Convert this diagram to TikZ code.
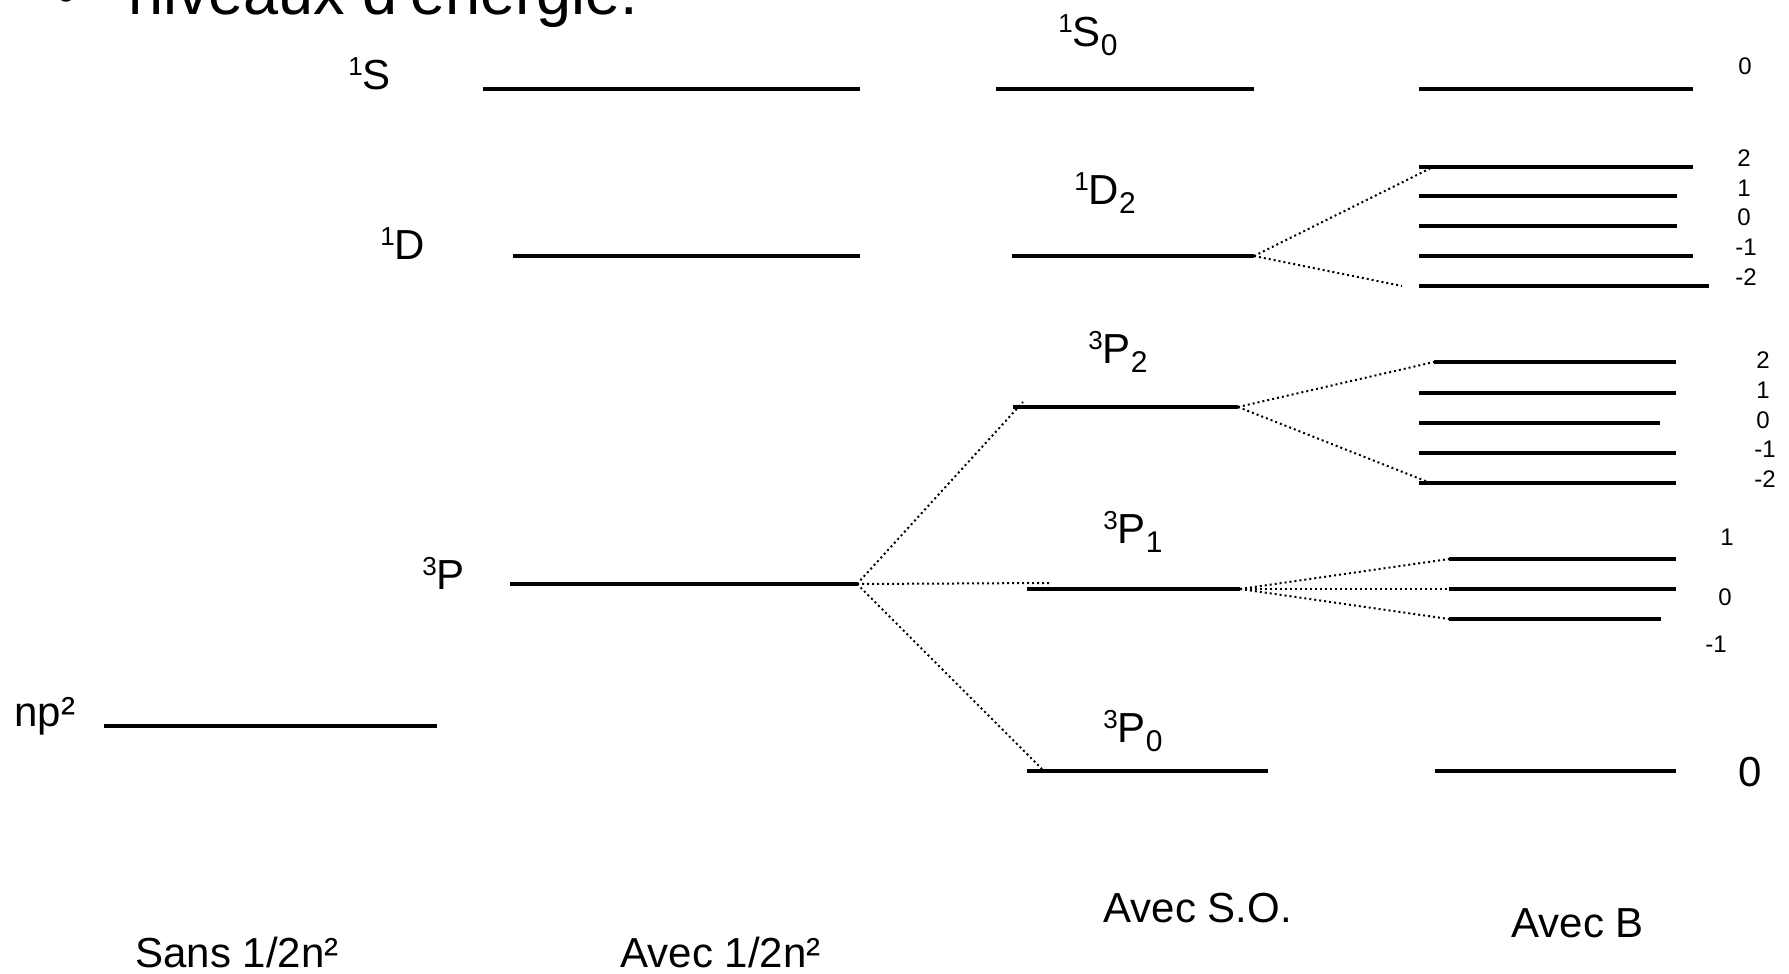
\documentclass[tikz,border=0pt]{standalone}
\usepackage{fontspec}
\setmainfont{Liberation Sans}
% term-symbol helpers: raised left index and lowered right index
\newcommand\lvlsup[1]{\raisebox{7pt}{\fontsize{13}{13}\selectfont #1}}
\newcommand\lvlsub[1]{\raisebox{-4.5pt}{\fontsize{15}{15}\selectfont #1}}
\begin{document}
\begin{tikzpicture}[x=0.5pt,y=-0.5pt,
  level/.style={line width=1.7pt},
  split/.style={line width=1pt, dash pattern=on 1pt off 1.5pt},
  lab/.style={anchor=base west, inner sep=0pt, font=\fontsize{21}{21}\selectfont},
  num/.style={anchor=base west, inner sep=0pt, font=\fontsize{12}{12}\selectfont},
  heading/.style={anchor=base west, inner sep=0pt, font=\fontsize{31.5}{31.5}\selectfont},
]
\useasboundingbox (0,0) rectangle (1789,974);

% heading (runs off the top edge)
\node[heading] (bullet) at (55,15) {•};
\node[heading] (title) at (128,15) {niveaux d\textquotesingle énergie.};

% ---- level end points ----
% configuration
\coordinate (np-l) at (104,726);  \coordinate (np-r) at (437,726);
% terms
\coordinate (S-l) at (483,89);    \coordinate (S-r) at (860,89);
\coordinate (D-l) at (513,256);   \coordinate (D-r) at (860,256);
\coordinate (P-l) at (510,584);   \coordinate (P-r) at (857,584);
% fine structure
\coordinate (S0-l) at (996,89);   \coordinate (S0-r) at (1254,89);
\coordinate (D2-l) at (1012,256); \coordinate (D2-r) at (1254,256);
\coordinate (P2-l) at (1013,407); \coordinate (P2-r) at (1238,407);
\coordinate (P1-l) at (1027,589); \coordinate (P1-r) at (1240,589);
\coordinate (P0-l) at (1027,771); \coordinate (P0-r) at (1268,771);
% Zeeman sublevels
\coordinate (bS-l) at (1419,89);  \coordinate (bS-r) at (1693,89);
\foreach \m/\y/\xl/\xr in {2/167/1419/1693, 1/196/1419/1677, 0/226/1419/1677, -1/256/1419/1693, -2/286/1419/1709}{
  \coordinate (bD\m-l) at (\xl,\y); \coordinate (bD\m-r) at (\xr,\y);
}
\foreach \m/\y/\xl/\xr in {2/362/1434/1676, 1/393/1419/1676, 0/423/1419/1660, -1/453/1419/1676, -2/483/1419/1676}{
  \coordinate (bPb\m-l) at (\xl,\y); \coordinate (bPb\m-r) at (\xr,\y);
}
\foreach \m/\y/\xl/\xr in {1/559/1449/1676, 0/589/1449/1676, -1/619/1449/1661}{
  \coordinate (bPa\m-l) at (\xl,\y); \coordinate (bPa\m-r) at (\xr,\y);
}
\coordinate (bP0-l) at (1435,771); \coordinate (bP0-r) at (1676,771);

% free ends of the splitting guides
\coordinate (P2in) at (1023,402);
\coordinate (P1in) at (1050,583);
\coordinate (P0in) at (1042,769);
\coordinate (D2up) at (1431,168);
\coordinate (D2dn) at (1402,286);
\coordinate (P2dn) at (1428,482);

% ---- levels ----
\draw[level] (np-l) -- (np-r);
\draw[level] (S-l) -- (S-r);
\draw[level] (D-l) -- (D-r);
\draw[level] (P-l) -- (P-r);
\draw[level] (S0-l) -- (S0-r);
\draw[level] (D2-l) -- (D2-r);
\draw[level] (P2-l) -- (P2-r);
\draw[level] (P1-l) -- (P1-r);
\draw[level] (P0-l) -- (P0-r);
\draw[level] (bS-l) -- (bS-r);
\foreach \m in {2,1,0,-1,-2}{
  \draw[level] (bD\m-l) -- (bD\m-r);
  \draw[level] (bPb\m-l) -- (bPb\m-r);
}
\foreach \m in {1,0,-1}{
  \draw[level] (bPa\m-l) -- (bPa\m-r);
}
\draw[level] (bP0-l) -- (bP0-r);

% ---- splitting guides ----
\draw[split] (P-r) -- (P2in);
\draw[split] (P-r) -- (P1in);
\draw[split] (P-r) -- (P0in);
\draw[split] (D2-r) -- (D2up);
\draw[split] (D2-r) -- (D2dn);
\draw[split] (P2-r) -- (bPb2-l);
\draw[split] (P2-r) -- (P2dn);
\draw[split] (P1-r) -- (bPa1-l);
\draw[split] (P1-r) -- (bPa0-l);
\draw[split] (P1-r) -- (bPa-1-l);

% ---- term labels ----
\node[lab] (lnp) at (14,726) {np²};
\node[lab] (lS) at (348,90) {\lvlsup{1}S};
\node[lab] (lD) at (380,259) {\lvlsup{1}D};
\node[lab] (lP) at (422,589) {\lvlsup{3}P};
\node[lab] (lS0) at (1058,47) {\lvlsup{1}S\lvlsub{0}};
\node[lab] (lD2) at (1074,205) {\lvlsup{1}D\lvlsub{2}};
\node[lab] (lP2) at (1088,363) {\lvlsup{3}P\lvlsub{2}};
\node[lab] (lP1) at (1103,543) {\lvlsup{3}P\lvlsub{1}};
\node[lab] (lP0) at (1103,742) {\lvlsup{3}P\lvlsub{0}};

% ---- magnetic quantum numbers ----
\node[num] (mS) at (1738,75) {0};
\node[num] (mD2) at (1737,167) {2};
\node[num] (mD1) at (1737,197) {1};
\node[num] (mD0) at (1737,226) {0};
\node[num] (mDm1) at (1735,256) {-1};
\node[num] (mDm2) at (1735,285) {-2};
\node[num] (mP2) at (1756,368) {2};
\node[num] (mP1) at (1756,398) {1};
\node[num] (mP0) at (1756,428) {0};
\node[num] (mPm1) at (1754,457) {-1};
\node[num] (mPm2) at (1754,487) {-2};
\node[num] (mQ1) at (1720,545) {1};
\node[num] (mQ0) at (1718,605) {0};
\node[num] (mQm1) at (1705,652) {-1};
\node[lab] (mR0) at (1738,786) {0};

% ---- column captions ----
\node[lab] (c1) at (135,967) {Sans 1/2n²};
\node[lab] (c2) at (620,967) {Avec 1/2n²};
\node[lab] (c3) at (1103,922) {Avec S.O.};
\node[lab] (c4) at (1511,937) {Avec B};
\end{tikzpicture}
\end{document}
